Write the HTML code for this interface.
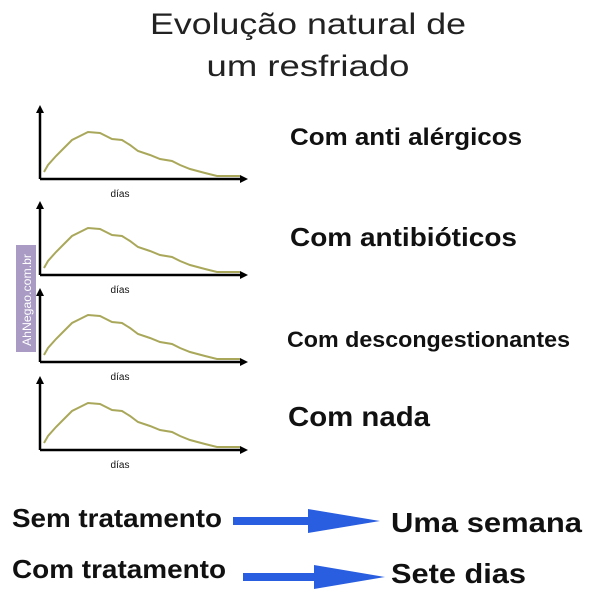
<!DOCTYPE html>
<html><head><meta charset="utf-8"><style>
html,body{margin:0;padding:0;background:#fff;}
svg{display:block;}
text{font-family:"Liberation Sans",sans-serif;fill:#111;}
</style></head><body>
<svg width="600" height="600" viewBox="0 0 600 600" xmlns="http://www.w3.org/2000/svg">
<defs>
<g id="chart">
<line x1="40" y1="179" x2="242" y2="179" stroke="#000" stroke-width="2.5"/>
<polygon points="248,179 240,175 240,183" fill="#000"/>
<line x1="40" y1="179" x2="40" y2="112" stroke="#000" stroke-width="2.5"/>
<polygon points="40,105 36,113 44,113" fill="#000"/>
<polyline fill="none" stroke="#a9a85a" stroke-width="2" points="44,172 48,165 56,156 64,148 72,140 80,136 88,132 100,133 106,136 112,139 122,140 130,145 138,151 150,155 160,159 172,161 180,165 190,169 205,173 217,176 240,176"/>
<text x="120" y="197" font-size="10" text-anchor="middle">días</text>
</g>
</defs>
<text x="308" y="34" font-size="30" text-anchor="middle" textLength="316" lengthAdjust="spacingAndGlyphs" style="fill:#222">Evolução natural de</text>
<text x="308" y="76" font-size="30" text-anchor="middle" textLength="203" lengthAdjust="spacingAndGlyphs" style="fill:#222">um resfriado</text>
<use href="#chart"/>
<use href="#chart" transform="translate(0,96)"/>
<use href="#chart" transform="translate(0,183)"/>
<use href="#chart" transform="translate(0,271)"/>
<text x="290" y="145" font-size="24" font-weight="bold" textLength="232" lengthAdjust="spacingAndGlyphs">Com anti alérgicos</text>
<text x="290" y="246" font-size="26" font-weight="bold" textLength="227" lengthAdjust="spacingAndGlyphs">Com antibióticos</text>
<text x="287" y="347" font-size="22" font-weight="bold" textLength="283" lengthAdjust="spacingAndGlyphs">Com descongestionantes</text>
<text x="288" y="426" font-size="28" font-weight="bold" textLength="142" lengthAdjust="spacingAndGlyphs">Com nada</text>
<rect x="16" y="245" width="20" height="107" fill="#a99bc4"/>
<text transform="translate(31,346) rotate(-90)" font-size="12" textLength="92" lengthAdjust="spacingAndGlyphs" style="fill:#fff">AhNegao.com.br</text>
<text x="12" y="527" font-size="26" font-weight="bold" textLength="210" lengthAdjust="spacingAndGlyphs">Sem tratamento</text>
<text x="391" y="532" font-size="28" font-weight="bold" textLength="191" lengthAdjust="spacingAndGlyphs">Uma semana</text>
<text x="12" y="578" font-size="26" font-weight="bold" textLength="214" lengthAdjust="spacingAndGlyphs">Com tratamento</text>
<text x="391" y="583" font-size="28" font-weight="bold" textLength="135" lengthAdjust="spacingAndGlyphs">Sete dias</text>
<rect x="233" y="517" width="80" height="8" fill="#2a5ee0"/>
<polygon points="308,509 380,521 308,533" fill="#2a5ee0"/>
<rect x="243" y="573" width="76" height="8" fill="#2a5ee0"/>
<polygon points="314,565 385,577 314,589" fill="#2a5ee0"/>
</svg>
</body></html>
